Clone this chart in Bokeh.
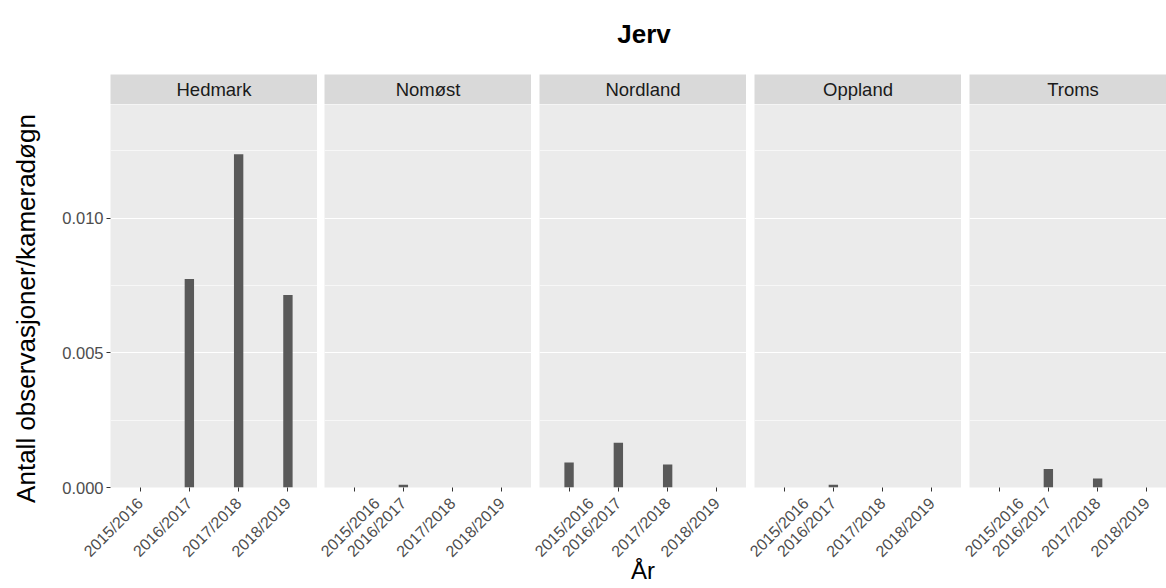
from math import pi

from bokeh.plotting import figure
from bokeh.layouts import column, row
from bokeh.models import (Range1d, FixedTicker, SingleIntervalTicker,
                          PrintfTickFormatter)
from bokeh.embed import file_html
from bokeh.resources import INLINE
from bokeh.core.properties import value

# ---------------- data ----------------
title = "Jerv"
x_title = "År"
y_title = "Antall observasjoner/kameradøgn"
seasons = ["2015/2016", "2016/2017", "2017/2018", "2018/2019"]
regions = ["Hedmark", "Nomøst", "Nordland", "Oppland", "Troms"]
hedmark = [0.0, 0.00774, 0.01237, 0.00715]
nomost = [0.0, 0.0001, 0.0, 0.0]
nordland = [0.00093, 0.00166, 0.00085, 0.0]
oppland = [0.0, 0.0001, 0.0, 0.0]
troms = [0.0, 0.00069, 0.00033, 0.0]
values = [hedmark, nomost, nordland, oppland, troms]
y_tick_interval = 0.005
y_max = 0.01422

# ---------------- layout / style ----------------
FONT = "Liberation Sans"
TOTAL_W = 1166
YLAB_W = 55
PANEL_W = 207
GAPS = [110 - YLAB_W, 7, 8, 8, 8]
TITLE_H = 74
STRIP_H = 30
FRAME_H = 383
BOTTOM = 101
PX_PER_UNIT = PANEL_W / 4.2

x_pos = list(range(1, len(seasons) + 1))


def blank(fig, bg="white"):
    fig.grid.visible = False
    fig.outline_line_color = None
    fig.background_fill_color = bg
    fig.border_fill_color = "white"


# title
title_fig = figure(width=TOTAL_W, height=TITLE_H, x_range=Range1d(0, TOTAL_W),
                   y_range=Range1d(0, TITLE_H), output_backend="svg",
                   toolbar_location=None, min_border=0,
                   x_axis_location=None, y_axis_location=None)
blank(title_fig)
title_fig.text(x=[643.5], y=[TITLE_H - 33], text=[title], text_font=value(FONT),
               text_font_size="26px", text_font_style="bold",
               text_align="center", text_baseline="alphabetic",
               text_color="black")

# y-axis title
ylab_h = STRIP_H + FRAME_H + BOTTOM
ylab_fig = figure(width=YLAB_W, height=ylab_h, x_range=Range1d(0, YLAB_W),
                  y_range=Range1d(0, ylab_h), output_backend="svg",
                  toolbar_location=None, min_border=0,
                  x_axis_location=None, y_axis_location=None)
blank(ylab_fig)
ylab_fig.text(x=[25], y=[ylab_h - (308 - TITLE_H)], text=[y_title],
              text_font=value(FONT), text_font_size="26px", angle=pi / 2,
              text_align="center", text_baseline="middle", text_color="black")

cols = [ylab_fig]
used = YLAB_W
for i, (reg, vals) in enumerate(zip(regions, values)):
    ml = GAPS[i]
    if i < len(regions) - 1:
        fw = PANEL_W
    else:
        fw = TOTAL_W - used - ml
    w = ml + fw
    used += w

    # strip
    s = figure(width=w, height=STRIP_H, x_range=Range1d(0, fw), y_range=Range1d(0, 1),
               output_backend="svg", toolbar_location=None,
               min_border_left=ml, min_border_right=0, min_border_top=0,
               min_border_bottom=0, x_axis_location=None, y_axis_location=None)
    blank(s, "#d9d9d9")
    s.text(x=[PANEL_W / 2], y=[0.5], text=[reg], text_font=value(FONT),
           text_font_size="18.5px", text_align="center", text_baseline="middle",
           text_color="#1a1a1a")

    # panel
    p = figure(width=w, height=FRAME_H + BOTTOM,
               x_range=Range1d(0.4, 0.4 + fw / PX_PER_UNIT),
               y_range=Range1d(0, y_max), output_backend="svg",
               toolbar_location=None, min_border_left=ml, min_border_right=0,
               min_border_top=0, min_border_bottom=BOTTOM,
               y_axis_location="left" if i == 0 else None)
    p.background_fill_color = "#ebebeb"
    p.border_fill_color = "white"
    p.outline_line_color = None
    p.xgrid.visible = False
    ticker = SingleIntervalTicker(interval=y_tick_interval, num_minor_ticks=2)
    p.ygrid.ticker = ticker
    p.ygrid.grid_line_color = "white"
    p.ygrid.grid_line_width = 1.2
    p.ygrid.minor_grid_line_color = "white"
    p.ygrid.minor_grid_line_width = 0.6

    p.vbar(x=x_pos, top=vals, bottom=0, width=0.19, fill_color="#595959",
           line_color=None)

    xa = p.xaxis[0]
    xa.ticker = FixedTicker(ticks=x_pos)
    xa.major_label_overrides = {k: lab for k, lab in zip(x_pos, seasons)}
    xa.major_label_orientation = pi / 4
    xa.axis_line_color = None
    xa.major_tick_line_color = "#333333"
    xa.major_tick_out = 4
    xa.major_tick_in = 0
    xa.minor_tick_line_color = None
    xa.major_label_standoff = 9
    xa.major_label_text_font = FONT
    xa.major_label_text_font_size = "16px"
    xa.major_label_text_color = "#4d4d4d"
    if i == 2:
        xa.axis_label = x_title
        xa.axis_label_standoff = -12
        xa.axis_label_text_font = FONT
        xa.axis_label_text_font_size = "24px"
        xa.axis_label_text_font_style = "normal"
        xa.axis_label_text_color = "black"

    if i == 0:
        ya = p.yaxis[0]
        ya.ticker = ticker
        ya.formatter = PrintfTickFormatter(format="%.3f")
        ya.axis_line_color = None
        ya.major_tick_line_color = "#333333"
        ya.major_tick_out = 4
        ya.major_tick_in = 0
        ya.minor_tick_line_color = None
        ya.major_label_standoff = 3
        ya.major_label_text_font = FONT
        ya.major_label_text_font_size = "16.5px"
        ya.major_label_text_color = "#4d4d4d"

    cols.append(column(s, p))

layout = column(title_fig, row(*cols))

open("out.html", "w").write(file_html(layout, INLINE))
